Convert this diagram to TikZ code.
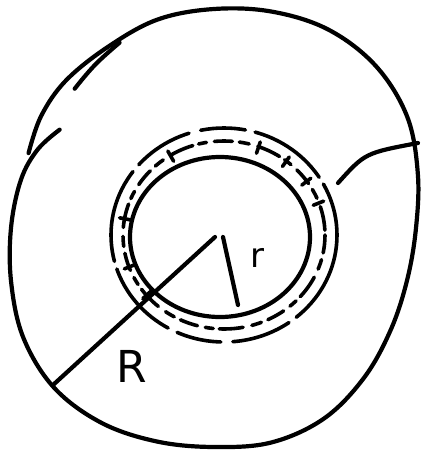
\documentclass[tikz,border=0pt]{standalone}
\usepackage{fontspec}
\setsansfont{DejaVu Sans}
\begin{document}
\begin{tikzpicture}[x=1pt,y=-1pt, line cap=round, line join=round,
  pen/.style={line width=4.2pt, black},
  thin pen/.style={line width=3.6pt, black},
  lbl/.style={inner sep=0pt, font=\sffamily}]
\useasboundingbox (0,0) rectangle (422,456);
% outer circle (one stroke, ends overlapping at upper left)
\begin{scope}[shift={(214,228)}, yscale=-1]
\draw[pen] plot[smooth, tension=0.6] coordinates {(147.5:183) (156:193) (166:199) (180:203) (195:210) (210:220) (225:226) (240:225) (255:221) (270:219) (285:222) (300:220) (315:212) (330:204) (345:200) (0:202) (15:211) (30:223) (45:229) (60:229) (75:224) (90:219) (105:216) (120:210) (135:209) (147:206) (158:200)};
% extra sketch stroke on outer circle
\draw[pen] plot[smooth, tension=0.7] coordinates {(135:197) (126:202) (117:208)};
\end{scope}
% right radius stroke
\coordinate (Rin) at (338,183);
\coordinate (Rout) at (418,143);
\draw[pen] (Rin) .. controls (365,153) .. (Rout);
% inner circle
\coordinate (C) at (220,237);
\draw[pen] (C) ellipse [x radius=90, y radius=80];
% hatched ring
\coordinate (H) at (224,235);
\draw[thin pen, dash pattern=on 95pt off 9pt on 60pt off 12pt on 45pt off 10pt on 80pt off 8pt] (H) ellipse [x radius=113, y radius=107];
\draw[thin pen, dash pattern=on 18pt off 7pt on 10pt off 9pt on 24pt off 6pt on 8pt off 8pt] (H) ellipse [x radius=101, y radius=94];
\foreach \a in {-122,-70,-52,-35,-20,160,190,140} {
  \draw[thin pen] ([shift={(\a:95 and 87)}]H) -- ([shift={(\a:106 and 99)}]H);
}
% radii
\coordinate (O) at (215,237);
\coordinate (Rend) at (53,385);
\draw[pen] (Rend) -- (O);
\coordinate (ra) at (223,237);
\coordinate (rb) at (238,305);
\draw[pen] (ra) -- (rb);
% labels
\node[lbl, font=\sffamily\fontsize{44}{44}\selectfont] (labR) at (132,366) {R};
\node[lbl, font=\sffamily\fontsize{34}{34}\selectfont] (labr) at (257,258) {r};
\end{tikzpicture}
\end{document}
